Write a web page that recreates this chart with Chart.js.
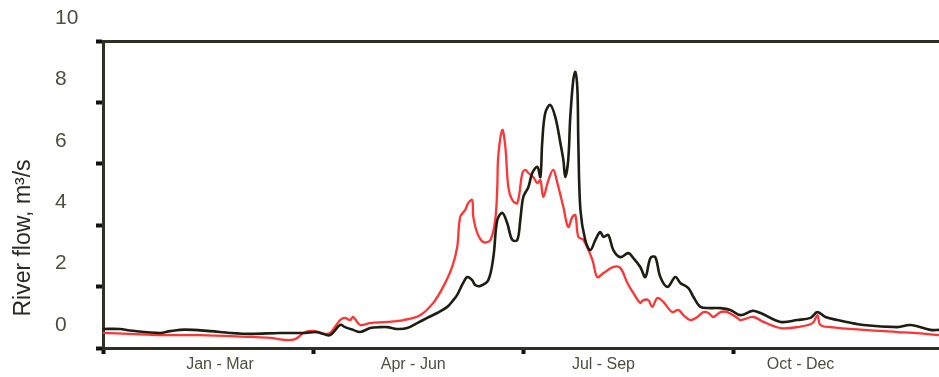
<!DOCTYPE html>
<html>
<head>
<meta charset="utf-8">
<script src="https://cdn.jsdelivr.net/npm/chart.js@4.4.1/dist/chart.umd.min.js"></script>
<style>
html,body{margin:0;padding:0;background:#fff;overflow:hidden;}
#wrap{width:939px;height:377px;position:relative;}
</style>
</head>
<body>
<div id="wrap"><canvas id="c" width="939" height="377"></canvas></div>
<script>
// ---- data (day of year, river flow m3/s) ----
const quarterLabels = ['Jan - Mar', 'Apr - Jun', 'Jul - Sep', 'Oct - Dec'];
const yTickValues = [0, 2, 4, 6, 8, 10];
const quarterBoundaries = [0, 91.25, 182.5, 273.75];

const blackDays = [0,7.4,11.7,24.8,29.1,35.6,46.5,55.2,63.9,76.9,87.8,92.1,94.3,98.6,103.0,105.1,108.6,111.7,116.0,120.4,123.4,127.7,132.1,136.4,140.8,145.1,149.5,152.1,153.8,156.4,158.2,160.3,161.6,163.8,167.3,169.5,171.2,173.4,175.5,177.7,179.9,181.2,182.5,184.7,186.4,188.6,189.9,190.7,192.0,194.2,196.4,198.6,199.9,200.7,202.0,202.9,204.2,205.1,206.0,206.4,207.3,209.4,211.6,213.8,215.9,217.3,219.4,221.6,224.6,228.1,230.3,233.3,235.5,237.7,239.8,242.0,245.1,248.5,250.7,254.2,256.4,259.4,263.7,268.1,272.4,276.8,282.0,285.5,294.2,301.5,307.2,310.2,313.7,318.9,330.2,345.0,350.6,359.3,363.2];
const blackFlow = [0.62,0.62,0.57,0.49,0.55,0.60,0.55,0.49,0.46,0.49,0.49,0.52,0.49,0.42,0.75,0.68,0.59,0.52,0.65,0.68,0.68,0.62,0.65,0.81,0.98,1.14,1.34,1.56,1.73,2.12,2.31,2.21,2.05,2.02,2.21,2.96,4.17,4.40,4.07,3.52,3.52,4.17,4.92,5.24,5.70,5.90,5.57,6.68,7.65,7.92,7.52,6.68,6.12,5.57,6.12,7.52,8.73,8.99,8.40,6.68,4.50,3.52,3.19,3.52,3.78,3.62,3.68,3.19,2.96,3.09,2.93,2.64,2.31,2.93,2.96,2.31,1.99,2.31,2.12,1.95,1.66,1.34,1.30,1.30,1.24,1.07,1.21,1.14,0.85,0.91,0.98,1.17,1.01,0.91,0.75,0.68,0.75,0.59,0.59];

const redDays = [0,11.7,24.8,42.1,63.9,72.6,79.1,83.4,87.8,92.1,96.5,98.6,103.0,105.1,107.3,108.6,111.7,116.0,123.4,130.4,137.7,143.4,147.7,151.6,153.8,155.1,157.3,158.6,160.3,160.8,162.5,165.1,168.2,170.3,171.2,171.6,173.4,174.7,176.0,177.7,179.9,182.1,183.4,184.7,186.8,188.6,189.9,191.2,193.4,195.5,197.3,199.9,202.0,203.8,205.1,206.4,208.6,212.5,214.6,217.3,221.6,224.6,227.7,230.3,233.3,234.6,236.8,238.5,240.7,243.3,247.2,249.8,252.0,255.0,258.1,260.7,262.9,265.0,268.1,271.1,275.5,276.8,282.4,286.8,294.2,301.5,308.1,310.2,311.5,315.9,330.2,345.0,351.9,363.2];
const redFlow = [0.49,0.46,0.42,0.42,0.36,0.33,0.26,0.29,0.52,0.55,0.46,0.49,0.91,0.98,0.91,1.01,0.75,0.81,0.85,0.91,1.07,1.47,1.99,2.64,3.29,4.27,4.50,4.72,4.82,4.27,3.75,3.45,3.52,4.17,5.24,6.22,7.10,6.55,5.24,4.82,4.72,5.70,5.80,5.70,5.57,5.37,5.47,4.92,5.47,5.80,5.37,4.59,3.94,4.27,4.33,3.62,3.52,2.87,2.31,2.44,2.64,2.61,2.12,1.79,1.47,1.56,1.56,1.34,1.63,1.50,1.17,1.24,1.07,0.91,1.01,1.17,1.14,1.01,1.17,1.17,0.98,0.91,1.01,0.85,0.65,0.68,0.81,1.07,0.75,0.68,0.59,0.52,0.49,0.42];

const toPoints = (xs, ys) => xs.map((x, i) => ({x: x, y: ys[i]}));

const textColor = '#4e4e3e';
const axisColor = '#2f2f22';
const labelFont = '"Liberation Sans Narrow", "Liberation Sans", sans-serif';

const yTitlePlugin = {
  id: 'yTitle',
  afterDraw(chart) {
    const ctx = chart.ctx;
    ctx.save();
    ctx.translate(24, 238);
    ctx.rotate(-Math.PI / 2);
    ctx.fillStyle = '#2b2b24';
    ctx.font = '23px ' + labelFont;
    ctx.textAlign = 'center';
    ctx.textBaseline = 'middle';
    ctx.fillText('River flow, m\u00B3/s', 0, 0);
    ctx.restore();
  }
};

const quarterLabelPlugin = {
  id: 'quarterLabels',
  afterDraw(chart, args, opts) {
    const ctx = chart.ctx;
    const xs = chart.scales.x;
    ctx.save();
    ctx.fillStyle = textColor;
    ctx.font = '16px ' + labelFont;
    ctx.textAlign = 'center';
    ctx.textBaseline = 'middle';
    quarterLabels.forEach((lab, i) => {
      ctx.fillText(lab, xs.getPixelForValue(opts.centers[i]), opts.y);
    });
    ctx.restore();
  }
};

new Chart(document.getElementById('c'), {
  type: 'line',
  data: {
    datasets: [
      {
        label: 'black',
        data: toPoints(blackDays, blackFlow),
        borderColor: '#1d1d12',
        borderWidth: 2.6,
        pointRadius: 0,
        tension: 0.35,
        fill: false
      },
      {
        label: 'red',
        data: toPoints(redDays, redFlow),
        borderColor: '#ff3434',
        borderWidth: 2.3,
        pointRadius: 0,
        tension: 0.35,
        fill: false
      }
    ]
  },
  options: {
    responsive: false,
    animation: false,
    devicePixelRatio: 1,
    layout: {padding: {left: 55, top: 41, right: 0, bottom: 0}},
    plugins: {
      legend: {display: false},
      tooltip: {enabled: false},
      quarterLabels: {centers: [50.8, 134.7, 217.3, 302.9], y: 365}
    },
    scales: {
      x: {
        type: 'linear',
        min: 0,
        max: 363,
        afterBuildTicks: (s) => { s.ticks = quarterBoundaries.map(v => ({value: v})); },
        afterFit: (s) => { s.height = 29; },
        ticks: {display: false},
        grid: {display: true, drawOnChartArea: false, drawTicks: true, tickLength: 6, tickWidth: 4, tickColor: '#111'},
        border: {display: true, color: axisColor, width: 3}
      },
      xTop: {
        type: 'linear',
        position: 'top',
        min: 0,
        max: 1,
        afterFit: (s) => { s.height = 0; },
        ticks: {display: false},
        grid: {display: false},
        border: {display: true, color: axisColor, width: 3}
      },
      y: {
        type: 'linear',
        min: 0,
        max: 10,
        afterBuildTicks: (s) => { s.ticks = yTickValues.map(v => ({value: v})); },
        afterFit: (s) => { s.width = 48; },
        ticks: {
          color: textColor,
          font: {family: labelFont, size: 21},
          crossAlign: 'far',
          labelOffset: -23,
          padding: 4
        },
        grid: {display: true, drawOnChartArea: false, drawTicks: true, tickLength: 7, tickWidth: 4, tickColor: '#111'},
        border: {display: true, color: axisColor, width: 3}
      }
    }
  },
  plugins: [yTitlePlugin, quarterLabelPlugin]
});
</script>
</body>
</html>
